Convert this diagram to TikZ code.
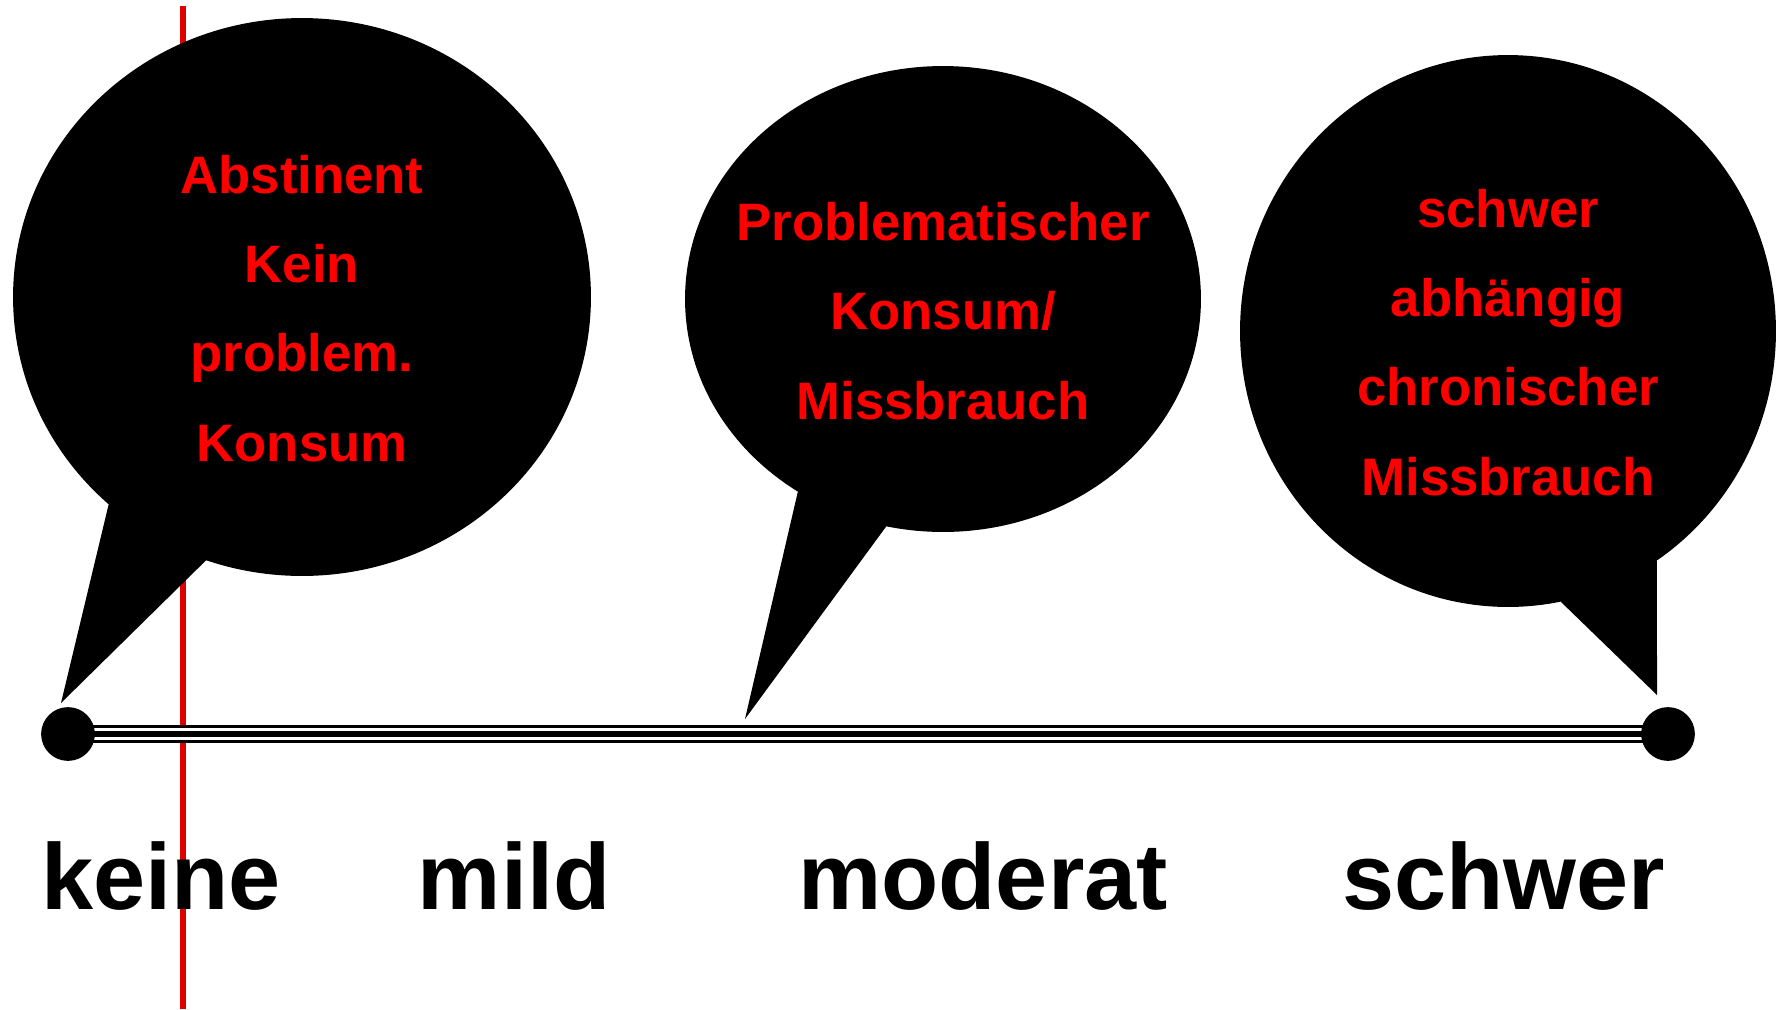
\documentclass[tikz,border=0pt]{standalone}
\usepackage{fontspec}
\setmainfont{Liberation Sans}
\usetikzlibrary{shapes.geometric}

\definecolor{sprechrot}{HTML}{FF0000}
\definecolor{linienrot}{HTML}{DC0000}

\begin{document}
\begin{tikzpicture}[
    x=0.02cm, y=-0.02cm,
    blase/.style={ellipse, fill=black, inner sep=0pt, outer sep=0pt},
    blasetext/.style={text=sprechrot, align=center, anchor=base, inner sep=0pt, font=\bfseries\fontsize{30}{50.7}\selectfont},
    stufe/.style={anchor=base, inner sep=0pt, font=\bfseries\fontsize{53.3}{60}\selectfont},
    punkt/.style={circle, fill=black, minimum size=30.6pt, inner sep=0pt, outer sep=0pt},
    achse/.style={line width=10.2pt},
    achseluecke/.style={line width=6.8pt, white},
    achsekern/.style={line width=3.4pt}
]
\useasboundingbox (0,0) rectangle (1776,1009);
% Rote Markierung (liegt ganz hinten)
\coordinate (rotoben) at (183,6);
\coordinate (rotunten) at (183,1009);
\draw[linienrot, line width=3.4pt] (rotoben) -- (rotunten);
% Achse: drei Linien zwischen den Endpunkten
\coordinate (links) at (68,734);
\coordinate (rechts) at (1668,734);
\draw[achse] (links) -- (rechts);
\draw[achseluecke] (links) -- (rechts);
\draw[achsekern] (links) -- (rechts);
\node[punkt] (p1) at (links) {};
\node[punkt] (p2) at (rechts) {};
% Sprechblasen
\node[blase, minimum width=11.56cm, minimum height=11.16cm] (b1) at (302,297) {};
\node[blase, minimum width=10.32cm, minimum height=9.32cm] (b2) at (943,299) {};
\node[blase, minimum width=10.72cm, minimum height=11.04cm] (b3) at (1508,331) {};
\coordinate (spitze1) at (61,703);
\coordinate (spitze2) at (745,719);
\coordinate (spitze3) at (1657,695);
\fill (b1.227.9) -- (spitze1) -- (b1.250.7) -- cycle;
\fill (b2.233.4) -- (spitze2) -- (b2.256.7) -- cycle;
\fill (b3.281.5) -- (spitze3) -- (b3.303.3) -- cycle;
% Texte in den Blasen (base = letzte Zeile)
\node[blasetext] (t1) at (302,461) {Abstinent\\Kein\\problem.\\Konsum};
\node[blasetext] (t2) at (943,419) {Problematischer\\Konsum/\\Missbrauch};
\node[blasetext] (t3) at (1508,495) {schwer\\abhängig\\chronischer\\Missbrauch};
% Stufen unter der Achse
\node[stufe] (keine) at (161,909.6) {keine};
\node[stufe] (mild) at (514,909.6) {mild};
\node[stufe] (moderat) at (983,909.6) {moderat};
\node[stufe] (schwer) at (1504,909.6) {schwer};
\end{tikzpicture}
\end{document}
